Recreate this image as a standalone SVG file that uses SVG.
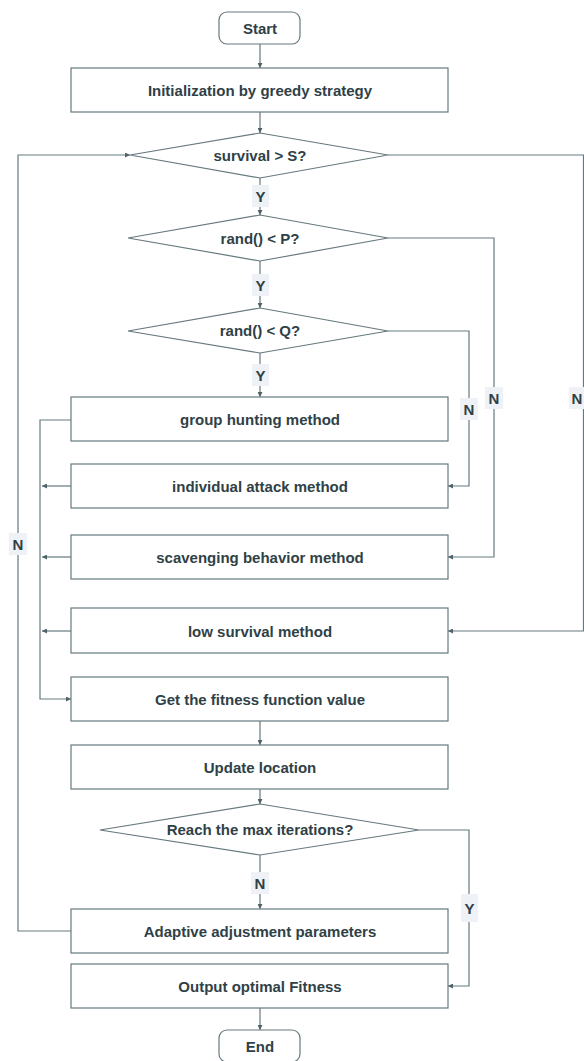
<svg xmlns="http://www.w3.org/2000/svg" width="584" height="1061" viewBox="0 0 584 1061">
  <style>
    .box { fill: #ffffff; stroke: #66797f; stroke-width: 1.2; }
    .txt { font-family: "Liberation Sans", Arial, sans-serif; font-weight: bold; font-size: 15px; fill: #2f4146; text-anchor: middle; dominant-baseline: central; }
    .edge { fill: none; stroke: #66797f; stroke-width: 1.2; }
    .lblbg { fill: #eef1f5; }
    .lbl { font-family: "Liberation Sans", Arial, sans-serif; font-weight: bold; font-size: 15px; fill: #2f4146; text-anchor: middle; dominant-baseline: central; }
  </style>
  <defs>
    <marker id="arrow" viewBox="0 0 6 6" refX="6" refY="3" markerWidth="5" markerHeight="5" orient="auto" markerUnits="userSpaceOnUse">
      <path d="M0,0 L6,3 L0,6 z" fill="#4f6268"/>
    </marker>
  </defs>
  <rect width="584" height="1061" fill="#ffffff"/>

  <!-- connectors -->
  <g id="connectors">
    <path class="edge" d="M260,44 V68" marker-end="url(#arrow)"/>
    <path class="edge" d="M260,112 V133" marker-end="url(#arrow)"/>
    <path class="edge" d="M260,178 V215" marker-end="url(#arrow)"/>
    <path class="edge" d="M260,261 V308" marker-end="url(#arrow)"/>
    <path class="edge" d="M260,353 V397" marker-end="url(#arrow)"/>
    <path class="edge" d="M388,331 H469 V486 H448" marker-end="url(#arrow)"/>
    <path class="edge" d="M388,238 H494 V557 H448" marker-end="url(#arrow)"/>
    <path class="edge" d="M388,155 H583.5 V631 H448" marker-end="url(#arrow)"/>
    <path class="edge" d="M71,420 H40 V699 H71" marker-end="url(#arrow)"/>
    <path class="edge" d="M71,486 H42" marker-end="url(#arrow)"/>
    <path class="edge" d="M71,557 H42" marker-end="url(#arrow)"/>
    <path class="edge" d="M71,631 H42" marker-end="url(#arrow)"/>
    <path class="edge" d="M260,721 V745" marker-end="url(#arrow)"/>
    <path class="edge" d="M260,789 V804" marker-end="url(#arrow)"/>
    <path class="edge" d="M260,855 V909" marker-end="url(#arrow)"/>
    <path class="edge" d="M419,830 H469 V986 H448" marker-end="url(#arrow)"/>
    <path class="edge" d="M71,931 H18 V155 H130" marker-end="url(#arrow)"/>
    <path class="edge" d="M260,1008 V1030" marker-end="url(#arrow)"/>

    <!-- branch labels -->
    <rect class="lblbg" x="252" y="185" width="17" height="22"/>
    <text class="lbl" x="260.5" y="196">Y</text>
    <rect class="lblbg" x="252" y="274" width="17" height="22"/>
    <text class="lbl" x="260.5" y="285">Y</text>
    <rect class="lblbg" x="252" y="364" width="17" height="22"/>
    <text class="lbl" x="260.5" y="375">Y</text>
    <rect class="lblbg" x="460" y="398" width="18" height="22"/>
    <text class="lbl" x="469" y="409">N</text>
    <rect class="lblbg" x="485" y="387" width="18" height="22"/>
    <text class="lbl" x="494" y="398">N</text>
    <rect class="lblbg" x="569" y="387" width="15" height="22"/>
    <text class="lbl" x="577" y="398">N</text>
    <rect class="lblbg" x="9" y="533" width="18" height="22"/>
    <text class="lbl" x="18" y="544">N</text>
    <rect class="lblbg" x="251" y="872" width="18" height="22"/>
    <text class="lbl" x="260" y="883">N</text>
    <rect class="lblbg" x="461" y="894" width="17" height="28"/>
    <text class="lbl" x="469.5" y="908">Y</text>
  </g>

  <!-- nodes -->
  <g id="start">
    <rect class="box" x="219" y="12" width="81" height="32" rx="8"/>
    <text class="txt" x="260" y="28">Start</text>
  </g>
  <g id="init">
    <rect class="box" x="71" y="68" width="377" height="44"/>
    <text class="txt" x="260" y="90">Initialization by greedy strategy</text>
  </g>
  <g id="survival">
    <polygon class="box" points="260,133 388,155 260,178 130,155"/>
    <text class="txt" x="260" y="155">survival &gt; S?</text>
  </g>
  <g id="randP">
    <polygon class="box" points="260,215 388,238 260,261 128,238"/>
    <text class="txt" x="260" y="238">rand() &lt; P?</text>
  </g>
  <g id="randQ">
    <polygon class="box" points="260,308 388,331 260,353 128,331"/>
    <text class="txt" x="260" y="330">rand() &lt; Q?</text>
  </g>
  <g id="group-hunting">
    <rect class="box" x="71" y="397" width="377" height="44"/>
    <text class="txt" x="260" y="419">group hunting method</text>
  </g>
  <g id="individual-attack">
    <rect class="box" x="71" y="464" width="377" height="44"/>
    <text class="txt" x="260" y="486">individual attack method</text>
  </g>
  <g id="scavenging">
    <rect class="box" x="71" y="535" width="377" height="44"/>
    <text class="txt" x="260" y="557">scavenging behavior method</text>
  </g>
  <g id="low-survival">
    <rect class="box" x="71" y="608" width="377" height="45"/>
    <text class="txt" x="260" y="631">low survival method</text>
  </g>
  <g id="fitness">
    <rect class="box" x="71" y="677" width="377" height="44"/>
    <text class="txt" x="260" y="699">Get the fitness function value</text>
  </g>
  <g id="update">
    <rect class="box" x="71" y="745" width="377" height="44"/>
    <text class="txt" x="260" y="767">Update location</text>
  </g>
  <g id="max-iter">
    <polygon class="box" points="260,804 419,830 260,855 100,830"/>
    <text class="txt" x="260" y="829">Reach the max iterations?</text>
  </g>
  <g id="adaptive">
    <rect class="box" x="71" y="909" width="377" height="44"/>
    <text class="txt" x="260" y="931">Adaptive adjustment parameters</text>
  </g>
  <g id="output">
    <rect class="box" x="71" y="964" width="377" height="44"/>
    <text class="txt" x="260" y="986">Output optimal Fitness</text>
  </g>
  <g id="end">
    <rect class="box" x="219" y="1030" width="81" height="32" rx="8"/>
    <text class="txt" x="260" y="1046">End</text>
  </g>
</svg>
